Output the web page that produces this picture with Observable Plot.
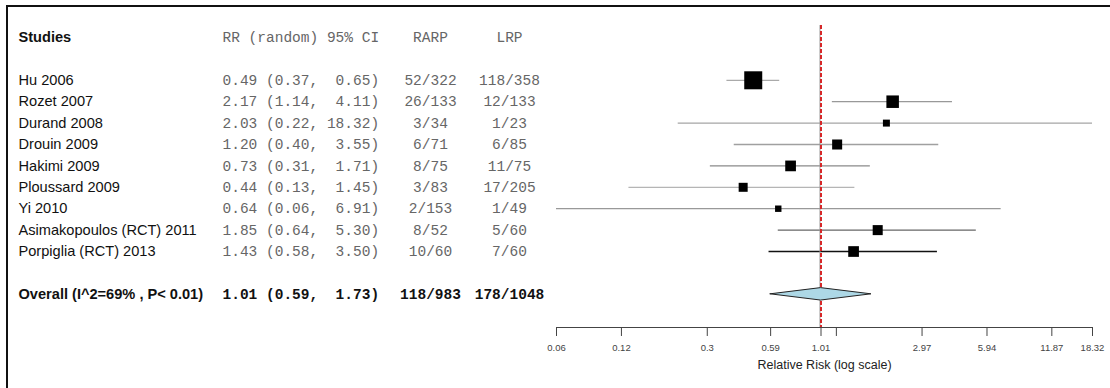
<!DOCTYPE html>
<html>
<head>
<meta charset="utf-8">
<script src="https://cdn.jsdelivr.net/npm/d3@7"></script>
<script src="https://cdn.jsdelivr.net/npm/@observablehq/plot@0.6"></script>
<style>
  html, body { margin: 0; padding: 0; background: #fff; }
  #chart { position: relative; width: 1110px; height: 388px; overflow: hidden; }
  #chart svg { position: absolute; left: 0; top: 0; white-space: pre; }
  #chart .border {
    position: absolute; left: 6px; top: 5px; right: -6px; bottom: -6px;
    border-top: 2px solid #111; border-left: 2px solid #111; pointer-events: none;
  }
</style>
</head>
<body>
<div id="chart"><div class="border"></div></div>
<script>
// Studies comparing RARP and LRP: relative risk (random effects) with 95% CI
const studies = ["Hu 2006", "Rozet 2007", "Durand 2008", "Drouin 2009", "Hakimi 2009",
  "Ploussard 2009", "Yi 2010", "Asimakopoulos (RCT) 2011", "Porpiglia (RCT) 2013"];
const rr    = [0.49, 2.17, 2.03, 1.20, 0.73, 0.44, 0.64, 1.85, 1.43];
const ciLow = [0.37, 1.14, 0.22, 0.40, 0.31, 0.13, 0.06, 0.64, 0.58];
const ciHigh = [0.65, 4.11, 18.32, 3.55, 1.71, 1.45, 6.91, 5.30, 3.50];
const rarp = ["52/322", "26/133", "3/34", "6/71", "8/75", "3/83", "2/153", "8/52", "10/60"];
const lrp  = ["118/358", "12/133", "1/23", "6/85", "11/75", "17/205", "1/49", "5/60", "7/60"];
// relative study weights (%), drive the box sizes
const weight = [30.0, 14.5, 4.5, 9.3, 10.6, 7.5, 3.8, 9.3, 10.6];

// pooled estimate
const overallLabel = "Overall (I^2=69% , P< 0.01)";
const overallRR = 1.01, overallLow = 0.59, overallHigh = 1.73;
const overallRARP = "118/983", overallLRP = "178/1048";

// column headers
const headers = ["Studies", "RR (random) 95% CI", "RARP", "LRP"];

// x-axis ticks (log scale); the tick next to 1.01 carries no label
const tickValues = [0.06, 0.12, 0.3, 0.59, 1.01, 1.19, 2.97, 5.94, 11.87, 18.32];
const tickLabels = ["0.06", "0.12", "0.3", "0.59", "1.01", "", "2.97", "5.94", "11.87", "18.32"];
const axisTitle = "Relative Risk (log scale)";

// CI line greys, one per study
const ciStroke = ["#aaa", "#999", "#a5a5a5", "#a0a0a0", "#8a8a8a", "#b5b5b5", "#999", "#666", "#111"];

const fmtCI = (m, l, h) => `${m.toFixed(2)} (${l.toFixed(2)}, ${h.toFixed(2).padStart(5)})`;

// row layout: header, blank, studies, blank, overall
const headerRow = 0;
const rows = studies.map((s, i) => ({
  study: s, rr: rr[i], lo: ciLow[i], hi: ciHigh[i],
  rarp: rarp[i], lrp: lrp[i], w: weight[i], row: i + 2,
  ci: fmtCI(rr[i], ciLow[i], ciHigh[i]), stroke: ciStroke[i]
}));
const overallRow = studies.length + 3;
const axisRow = overallRow + 1.55;
const overall = [{
  study: overallLabel, row: overallRow, rarp: overallRARP, lrp: overallLRP,
  ci: fmtCI(overallRR, overallLow, overallHigh)
}];
const diamondHalf = 0.29;
const diamond = [
  {x: overallLow, y1: overallRow, y2: overallRow},
  {x: overallRR, y1: overallRow - diamondHalf, y2: overallRow + diamondHalf},
  {x: overallHigh, y1: overallRow, y2: overallRow}
];
const ticks = tickValues.map((v, i) => ({v, label: tickLabels[i]}));

const sans = "Arial, 'Liberation Sans', sans-serif";
const mono = "'Courier New', 'Liberation Mono', monospace";
const monoSize = 14.5;
const nameSize = 14.6;
const numFill = "#666";
const colCI = 222, colRARP = 430, colLRP = 509, colStudy = 18;
const tickLen = 0.42; // in row units (~9px)

const chart = Plot.plot({
  width: 1110,
  height: 388,
  marginLeft: 0,
  marginRight: 0,
  marginTop: 25,
  marginBottom: 61,
  style: {fontFamily: sans, fontSize: "13px", background: "transparent", overflow: "visible"},
  x: {type: "log", domain: [tickValues[0], tickValues[tickValues.length - 1]], range: [556, 1092], axis: null},
  y: {domain: [-0.56, axisRow], range: [25, 327], axis: null},
  r: {type: "sqrt", domain: [0, 30], range: [0, 10.16]},
  marks: [
    // headers
    Plot.text([headers[0]], {y: () => headerRow, frameAnchor: "left", dx: colStudy, textAnchor: "start",
      fontWeight: "bold", fontSize: nameSize, fill: "#111"}),
    Plot.text([headers[1]], {y: () => headerRow, frameAnchor: "left", dx: colCI, textAnchor: "start",
      fontFamily: mono, fontSize: monoSize, fill: numFill}),
    Plot.text([headers[2]], {y: () => headerRow, frameAnchor: "left", dx: colRARP, textAnchor: "middle",
      fontFamily: mono, fontSize: monoSize, fill: numFill}),
    Plot.text([headers[3]], {y: () => headerRow, frameAnchor: "left", dx: colLRP, textAnchor: "middle",
      fontFamily: mono, fontSize: monoSize, fill: numFill}),

    // study rows
    Plot.text(rows, {y: "row", text: "study", frameAnchor: "left", dx: colStudy, textAnchor: "start",
      fontSize: nameSize, fill: "#111"}),
    Plot.text(rows, {y: "row", text: "ci", frameAnchor: "left", dx: colCI, textAnchor: "start",
      fontFamily: mono, fontSize: monoSize, fill: numFill}),
    Plot.text(rows, {y: "row", text: "rarp", frameAnchor: "left", dx: colRARP, textAnchor: "middle",
      fontFamily: mono, fontSize: monoSize, fill: numFill}),
    Plot.text(rows, {y: "row", text: "lrp", frameAnchor: "left", dx: colLRP, textAnchor: "middle",
      fontFamily: mono, fontSize: monoSize, fill: numFill}),

    // overall row
    Plot.text(overall, {y: "row", text: "study", frameAnchor: "left", dx: colStudy, textAnchor: "start",
      fontSize: nameSize, fontWeight: "bold", fill: "#111"}),
    Plot.text(overall, {y: "row", text: "ci", frameAnchor: "left", dx: colCI, textAnchor: "start",
      fontFamily: mono, fontSize: monoSize, fontWeight: "bold", fill: "#111"}),
    Plot.text(overall, {y: "row", text: "rarp", frameAnchor: "left", dx: colRARP, textAnchor: "middle",
      fontFamily: mono, fontSize: monoSize, fontWeight: "bold", fill: "#111"}),
    Plot.text(overall, {y: "row", text: "lrp", frameAnchor: "left", dx: colLRP, textAnchor: "middle",
      fontFamily: mono, fontSize: monoSize, fontWeight: "bold", fill: "#111"}),

    // confidence intervals and study boxes
    Plot.ruleY(rows, {y: "row", x1: "lo", x2: "hi", stroke: "stroke", strokeWidth: 1.3}),
    Plot.dot(rows, {x: "rr", y: "row", r: "w", symbol: "square", fill: "#000", stroke: "none"}),

    // pooled-estimate reference line
    Plot.ruleX([overallRR], {stroke: "#999", strokeWidth: 1, dx: -1}),
    Plot.ruleX([overallRR], {stroke: "#d62728", strokeWidth: 2, strokeDasharray: "4,2"}),

    // pooled diamond
    Plot.areaY(diamond, {x: "x", y1: "y1", y2: "y2", fill: "#add8e6", stroke: "#222", strokeWidth: 1}),

    // x axis: baseline, ticks, labels, title
    Plot.ruleY([axisRow], {x1: tickValues[0], x2: tickValues[tickValues.length - 1], stroke: "#444"}),
    Plot.ruleX(ticks, {x: "v", y1: axisRow, y2: axisRow + tickLen, stroke: "#444"}),
    Plot.text(ticks, {x: "v", text: "label", frameAnchor: "bottom", dy: 23, fontSize: 9.5, fill: "#444",
      textAnchor: "middle"}),
    Plot.text([axisTitle], {x: () => Math.sqrt(tickValues[0] * tickValues[tickValues.length - 1]),
      frameAnchor: "bottom", dy: 41, fontSize: 12.5, fill: "#222", textAnchor: "middle"})
  ]
});

document.getElementById("chart").prepend(chart);
</script>
</body>
</html>
